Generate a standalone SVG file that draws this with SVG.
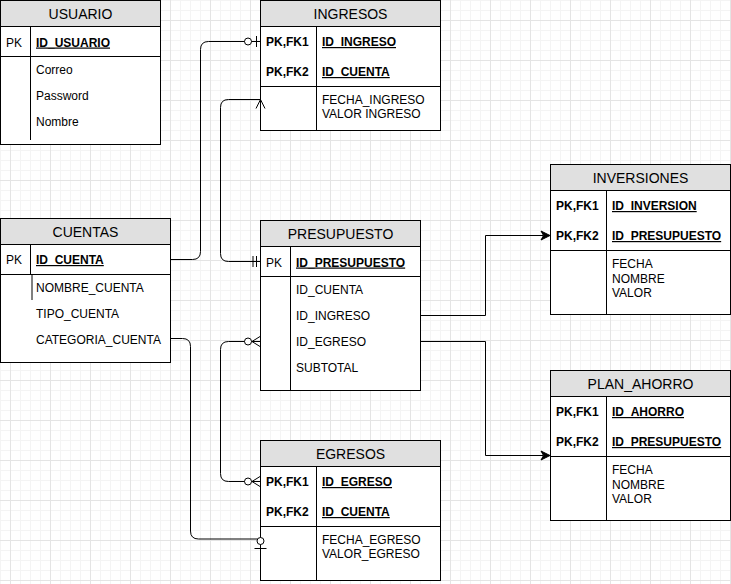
<svg xmlns="http://www.w3.org/2000/svg" width="731" height="584" viewBox="0 0 731 584">
<style>
text{font-family:"Liberation Sans",Arial,sans-serif;font-size:12px;fill:#000}
.t{font-size:14px;text-anchor:middle}
.b{font-weight:bold}
.u{font-weight:bold;text-decoration:underline}
.box{fill:#fff;stroke:#000;stroke-width:1}
.hd{fill:#e0e0e0;stroke:#000;stroke-width:1}
.ln{stroke:#000;stroke-width:1;fill:none}
.e{stroke:#000;stroke-width:1;fill:none}
.c{fill:#fff;stroke:#000;stroke-width:1}
</style>
<defs>
<pattern id="grid" x="10" y="20" width="40" height="40" patternUnits="userSpaceOnUse">
<rect width="40" height="40" fill="#fff"/>
<rect x="10" width="1" height="40" fill="#f4f4f4"/>
<rect x="20" width="1" height="40" fill="#f4f4f4"/>
<rect x="30" width="1" height="40" fill="#f4f4f4"/>
<rect y="10" width="40" height="1" fill="#f4f4f4"/>
<rect y="20" width="40" height="1" fill="#f4f4f4"/>
<rect y="30" width="40" height="1" fill="#f4f4f4"/>
<rect x="0" width="1" height="40" fill="#e4e4e4"/>
<rect y="0" width="40" height="1" fill="#e4e4e4"/>
</pattern>
</defs>
<rect width="731" height="584" fill="url(#grid)"/>

<g id="usuario">
<rect class="box" x="0.5" y="0.5" width="160" height="144"/>
<rect class="hd" x="0.5" y="0.5" width="160" height="26"/>
<path class="ln" d="M0.5,56.5 H160.5 M30.5,26.5 V56.5 M30.5,56.5 V140"/>
<text class="t" x="80.5" y="19">USUARIO</text>
<text x="6" y="46.5">PK</text>
<text class="u" x="36" y="46.5">ID_USUARIO</text>
<text x="36" y="74">Correo</text>
<text x="36" y="100">Password</text>
<text x="36" y="126">Nombre</text>
</g>

<g id="cuentas">
<rect class="box" x="0.5" y="218.5" width="170" height="144"/>
<rect class="hd" x="0.5" y="218.5" width="170" height="26"/>
<path class="ln" d="M0.5,274.5 H170.5 M30.5,244.5 V274.5 M32,274.5 V300"/>
<text class="t" x="85.5" y="237">CUENTAS</text>
<text x="6" y="264">PK</text>
<text class="u" x="36" y="264">ID_CUENTA</text>
<text x="36" y="292">NOMBRE_CUENTA</text>
<text x="36" y="318">TIPO_CUENTA</text>
<text x="36" y="344">CATEGORIA_CUENTA</text>
</g>

<g id="ingresos">
<rect class="box" x="260.5" y="0.5" width="180" height="130"/>
<rect class="hd" x="260.5" y="0.5" width="180" height="26"/>
<path class="ln" d="M260.5,86.5 H440.5 M316.5,26.5 V130.5"/>
<text class="t" x="350.5" y="19">INGRESOS</text>
<text class="b" x="266" y="46">PK,FK1</text>
<text class="u" x="322" y="46">ID_INGRESO</text>
<text class="b" x="266" y="76">PK,FK2</text>
<text class="u" x="322" y="76">ID_CUENTA</text>
<text x="322" y="103.5">FECHA_INGRESO</text>
<text x="322" y="118">VALOR INGRESO</text>
</g>

<g id="presupuesto">
<rect class="box" x="260.5" y="220.5" width="160" height="170"/>
<rect class="hd" x="260.5" y="220.5" width="160" height="26"/>
<path class="ln" d="M260.5,276.5 H420.5 M290.5,246.5 V390.5"/>
<text class="t" x="340.5" y="239">PRESUPUESTO</text>
<text x="266" y="266.5">PK</text>
<text class="u" x="296" y="266.5">ID_PRESUPUESTO</text>
<text x="296" y="293.5">ID_CUENTA</text>
<text x="296" y="319.5">ID_INGRESO</text>
<text x="296" y="345.5">ID_EGRESO</text>
<text x="296" y="371.5">SUBTOTAL</text>
</g>

<g id="egresos">
<rect class="box" x="260.5" y="440.5" width="180" height="140"/>
<rect class="hd" x="260.5" y="440.5" width="180" height="26"/>
<path class="ln" d="M260.5,526.5 H440.5 M316.5,466.5 V580.5"/>
<text class="t" x="350.5" y="459">EGRESOS</text>
<text class="b" x="266" y="486">PK,FK1</text>
<text class="u" x="322" y="486">ID_EGRESO</text>
<text class="b" x="266" y="516">PK,FK2</text>
<text class="u" x="322" y="516">ID_CUENTA</text>
<text x="322" y="543.5">FECHA_EGRESO</text>
<text x="322" y="558">VALOR_EGRESO</text>
</g>

<g id="inversiones">
<rect class="box" x="550.5" y="164.5" width="180" height="150"/>
<rect class="hd" x="550.5" y="164.5" width="180" height="26"/>
<path class="ln" d="M550.5,250.5 H730.5 M606.5,190.5 V314.5"/>
<text class="t" x="640.5" y="183">INVERSIONES</text>
<text class="b" x="556" y="210">PK,FK1</text>
<text class="u" x="612" y="210">ID_INVERSION</text>
<text class="b" x="556" y="240">PK,FK2</text>
<text class="u" x="612" y="240">ID_PRESUPUESTO</text>
<text x="612" y="268">FECHA</text>
<text x="612" y="282.5">NOMBRE</text>
<text x="612" y="297">VALOR</text>
</g>

<g id="plan_ahorro">
<rect class="box" x="550.5" y="370.5" width="180" height="150"/>
<rect class="hd" x="550.5" y="370.5" width="180" height="26"/>
<path class="ln" d="M550.5,456.5 H730.5 M606.5,396.5 V520.5"/>
<text class="t" x="640.5" y="389">PLAN_AHORRO</text>
<text class="b" x="556" y="416">PK,FK1</text>
<text class="u" x="612" y="416">ID_AHORRO</text>
<text class="b" x="556" y="446">PK,FK2</text>
<text class="u" x="612" y="446">ID_PRESUPUESTO</text>
<text x="612" y="474">FECHA</text>
<text x="612" y="488.5">NOMBRE</text>
<text x="612" y="503">VALOR</text>
</g>

<g id="connectors">
<path class="e" d="M170,259.5 H192.5 Q200.5,259.5 200.5,251.5 V49.5 Q200.5,41.5 208.5,41.5 H260"/>
<circle class="c" cx="248" cy="41.5" r="3.5"/>
<path class="e" d="M256.5,36 V47"/>

<path class="e" d="M260,261.5 H228.5 Q220.5,261.5 220.5,253.5 V107.5 Q220.5,99.5 228.5,99.5 H260"/>
<path class="e" d="M253,256 V267 M256.5,256 V267"/>
<path class="e" d="M256,108.5 L260.5,99.5 L265,108.5"/>

<path class="e" d="M170,338.5 H182.5 Q190.5,338.5 190.5,346.5 V531 Q190.5,539 198.5,539 H257.5"/>
<circle class="c" cx="260.5" cy="541" r="3.5"/>
<path class="e" d="M254.5,548.5 H266.5"/>

<path class="e" d="M260,341.5 H228.5 Q220.5,341.5 220.5,349.5 V473.5 Q220.5,481.5 228.5,481.5 H260"/>
<circle class="c" cx="248" cy="341.5" r="3.5"/>
<path class="e" d="M252,341.5 L260,336.5 M252,341.5 L260,346.5"/>
<circle class="c" cx="248" cy="481.5" r="3.5"/>
<path class="e" d="M252,481.5 L260,476.5 M252,481.5 L260,486.5"/>

<path class="e" d="M420,315.5 H485.5 V235.5 H543"/>
<path d="M550,235.5 L541,231 L543.5,235.5 L541,240 Z" fill="#000" stroke="#000"/>
<path class="e" d="M420,341.5 H485.5 V455.5 H543"/>
<path d="M550,455.5 L541,451 L543.5,455.5 L541,460 Z" fill="#000" stroke="#000"/>
</g>
</svg>
